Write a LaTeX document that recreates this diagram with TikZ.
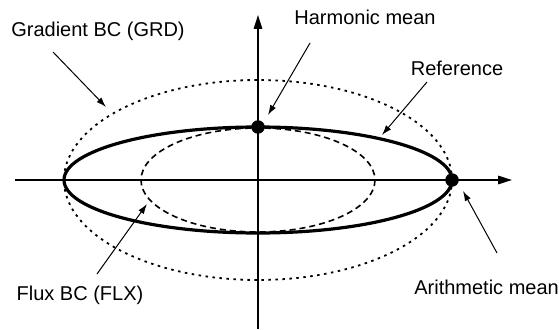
\documentclass[tikz,border=0pt]{standalone}
\usepackage{fontspec}
\setmainfont{Liberation Sans}
\usetikzlibrary{arrows.meta}
\begin{document}
\begin{tikzpicture}[x=1pt,y=-1pt,
  lbl/.style={font=\fontsize{20}{24}\selectfont, inner sep=0pt},
  ptr/.style={line width=1pt, -{Latex[length=10pt,width=6.5pt]}},
  axisline/.style={line width=1.6pt, -{Triangle[length=14pt,width=8.5pt]}},
  meandot/.style={circle, fill=black, minimum size=13.5pt, inner sep=0pt},
  refcurve/.style={line width=3.2pt},
  flxcurve/.style={line width=1.6pt, dash pattern=on 6pt off 4pt},
  grdcurve/.style={line width=1.8pt, dash pattern=on 2.5pt off 4.5pt}]
\useasboundingbox (0,0) rectangle (559,329);
% axes
\coordinate (xs) at (15,180);
\coordinate (xe) at (512,180);
\coordinate (ys) at (258,329);
\coordinate (ye) at (258,15);
\draw[axisline] (xs) -- (xe);
\draw[axisline] (ys) -- (ye);
% curves
\draw[grdcurve] (258,180) ellipse [x radius=194, y radius=100];
\draw[flxcurve] (258,180) ellipse [x radius=117, y radius=52];
\draw[refcurve] (258,180) ellipse [x radius=194, y radius=53];
% mean points
\node[meandot] (hm) at (258,127) {};
\node[meandot] (am) at (452,180) {};
% labels
\node[lbl] (grd) at (98,31) {Gradient BC (GRD)};
\node[lbl] (hml) at (365,17) {Harmonic mean};
\node[lbl] (refl) at (457,68) {Reference};
\node[lbl] (flx) at (80,295) {Flux BC (FLX)};
\node[lbl, anchor=east] (aml) at (559,287) {Arithmetic mean};
% pointer coordinates
\coordinate (grdS) at (53,52);
\coordinate (grdE) at (106,107);
\coordinate (hmS) at (310,43);
\coordinate (hmE) at (268,115);
\coordinate (refS) at (427,82);
\coordinate (refE) at (382,135);
\coordinate (flxS) at (97,274);
\coordinate (flxE) at (147,204);
\coordinate (amS) at (497,253);
\coordinate (amE) at (463,191);
\draw[ptr] (grdS) -- (grdE);
\draw[ptr] (hmS) -- (hmE);
\draw[ptr] (refS) -- (refE);
\draw[ptr] (flxS) -- (flxE);
\draw[ptr] (amS) -- (amE);
\end{tikzpicture}
\end{document}
